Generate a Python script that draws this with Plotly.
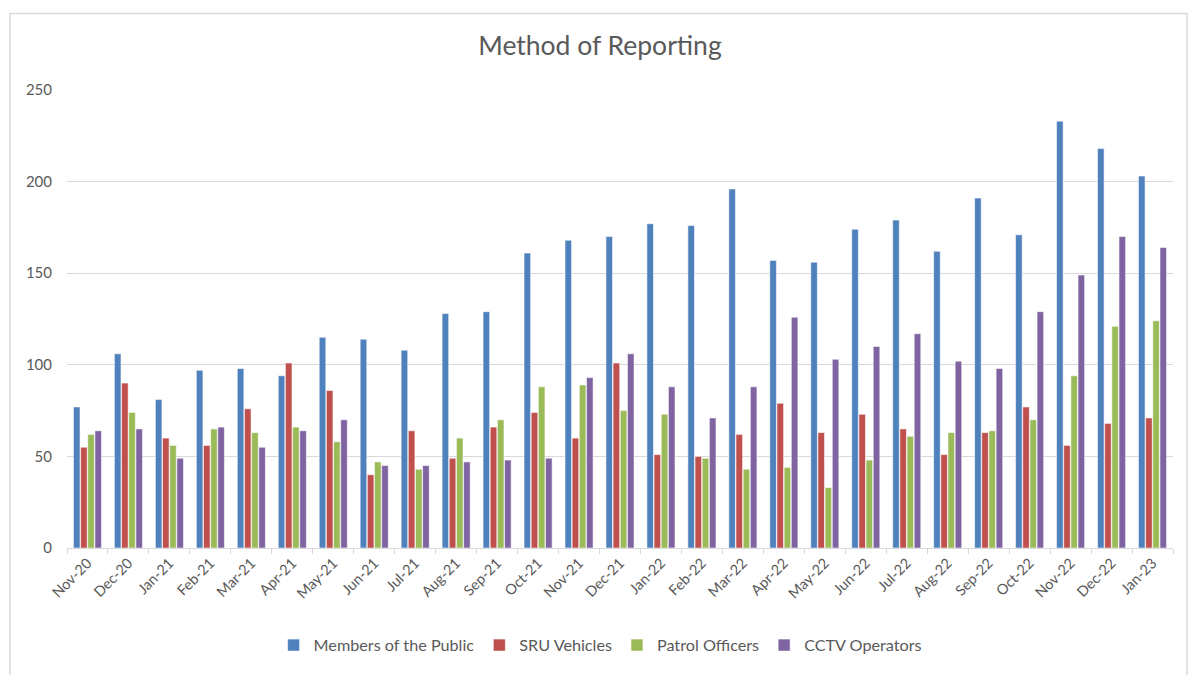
import plotly.graph_objects as go

months = ["Nov-20", "Dec-20", "Jan-21", "Feb-21", "Mar-21", "Apr-21", "May-21", "Jun-21", "Jul-21",
          "Aug-21", "Sep-21", "Oct-21", "Nov-21", "Dec-21", "Jan-22", "Feb-22", "Mar-22", "Apr-22",
          "May-22", "Jun-22", "Jul-22", "Aug-22", "Sep-22", "Oct-22", "Nov-22", "Dec-22", "Jan-23"]
public = [77, 106, 81, 97, 98, 94, 115, 114, 108, 128, 129, 161, 168, 170, 177, 176, 196, 157,
          156, 174, 179, 162, 191, 171, 233, 218, 203]
sru = [55, 90, 60, 56, 76, 101, 86, 40, 64, 49, 66, 74, 60, 101, 51, 50, 62, 79,
       63, 73, 65, 51, 63, 77, 56, 68, 71]
patrol = [62, 74, 56, 65, 63, 66, 58, 47, 43, 60, 70, 88, 89, 75, 73, 49, 43, 44,
          33, 48, 61, 63, 64, 70, 94, 121, 124]
cctv = [64, 65, 49, 66, 55, 64, 70, 45, 45, 47, 48, 49, 93, 106, 88, 71, 88, 126,
        103, 110, 117, 102, 98, 129, 149, 170, 164]

series = [("Members of the Public", public, "#4F81BD"),
          ("SRU Vehicles", sru, "#C0504D"),
          ("Patrol Officers", patrol, "#9BBB59"),
          ("CCTV Operators", cctv, "#8064A2")]

font_family = "Lato, 'Open Sans', sans-serif"
fig = go.Figure()
for name, vals, col in series:
    fig.add_trace(go.Bar(name=name, x=months, y=vals, marker_color=col,
                         marker_line_color="rgba(255,255,255,0.7)", marker_line_width=0.8))

fig.update_layout(
    width=1188, height=675,
    paper_bgcolor="white", plot_bgcolor="white",
    margin=dict(l=67, r=15, t=90, b=125),
    barmode="group", bargap=0.3, bargroupgap=0.08,
    title=dict(text="Method of Reporting", x=0.505, xanchor="center", y=0.933, yanchor="middle",
               font=dict(family=font_family, size=26.5, color="#595959")),
    font=dict(family=font_family, color="#595959"),
    legend=dict(orientation="h", x=0.482, xanchor="center", y=-0.213, yanchor="middle",
                font=dict(size=16.2, color="#595959"), itemwidth=30, traceorder="normal"),
    showlegend=True,
)
fig.update_yaxes(range=[0, 250], dtick=50, showgrid=True, gridcolor="#D9D9D9", gridwidth=1,
                 zeroline=False, showline=False, tickfont=dict(size=15, color="#595959"),
                 ticks="", ticklabelstandoff=14)
fig.update_xaxes(type="category", showline=True, linecolor="#D9D9D9", linewidth=1,
                 ticks="outside", tickson="boundaries", ticklen=5, tickcolor="#D9D9D9",
                 tickangle=-45, tickfont=dict(size=14.5, color="#595959"), showgrid=False)

fig.add_shape(type="rect", xref="paper", yref="paper", x0=-0.0515, x1=1.0127, y0=-0.3, y1=1.167,
              line=dict(color="#D9D9D9", width=1.5), fillcolor="rgba(0,0,0,0)", layer="below")

fig.write_html("out.html", config={"displayModeBar": False},
               post_script="document.body.style.margin='0';")
